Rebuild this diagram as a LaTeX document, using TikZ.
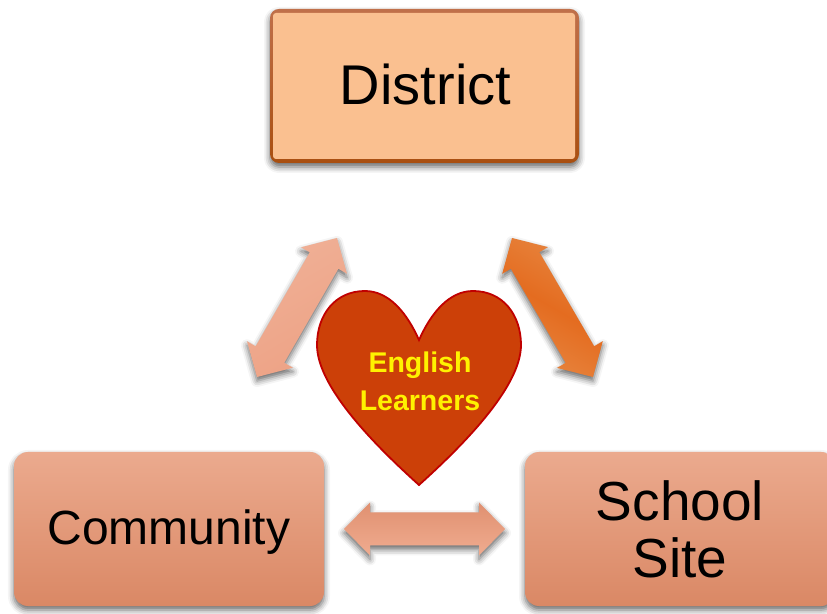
\documentclass[tikz,border=0pt]{standalone}
\usepackage{fontspec}
\setmainfont{Liberation Sans}
\usetikzlibrary{calc,shadows,shadows.blur}
\definecolor{facepeach}{HTML}{FAC090}
\definecolor{bevellight}{HTML}{C0704A}
\definecolor{beveldark}{HTML}{A94F10}
\definecolor{boxtop}{HTML}{EBAA8E}
\definecolor{boxbottom}{HTML}{DA8865}
\definecolor{heartfill}{HTML}{CC4008}
\definecolor{heartline}{HTML}{C00000}
\definecolor{paleedge}{HTML}{F0B096}
\definecolor{palemid}{HTML}{EDA285}
\definecolor{orangemid}{HTML}{E46C20}
\definecolor{orangeedge}{HTML}{E7853F}
\definecolor{peachdark}{HTML}{E09070}
\definecolor{peachlight}{HTML}{F0AC90}
\tikzset{
  softshadow/.style={blur shadow={shadow xshift=0pt,shadow yshift=-4pt,shadow blur radius=6pt,shadow opacity=60}},
  bevelbox/.style={rectangle,rounded corners=9pt,minimum width=309pt,minimum height=154pt,inner sep=0pt,top color=bevellight,bottom color=beveldark,softshadow},
  facebox/.style={rectangle,rounded corners=3pt,minimum width=302pt,minimum height=146pt,inner sep=0pt,fill=facepeach,font=\fontsize{56}{60}\selectfont},
  sitebox/.style={rectangle,rounded corners=14pt,minimum width=310pt,minimum height=154pt,inner sep=0pt,top color=boxtop,bottom color=boxbottom,softshadow},
  leftarrow/.style={shading=axis,left color=paleedge,right color=palemid,shading angle=30,softshadow},
  rightarrow/.style={shading=axis,left color=orangeedge,right color=orangeedge,middle color=orangemid,shading angle=-30,softshadow},
  bottomarrow/.style={shading=axis,top color=peachdark,bottom color=peachlight,softshadow},
}
% style, tail point, tip point
\newcommand{\blockarrow}[3]{%
  \path[#1] (#2)
    -- ($(#2)!26pt!(#3)!26.5pt!90:(#3)$)
    -- ($(#2)!26pt!(#3)!16.5pt!90:(#3)$)
    -- ($(#3)!26pt!(#2)!16.5pt!-90:(#2)$)
    -- ($(#3)!26pt!(#2)!26.5pt!-90:(#2)$)
    -- (#3)
    -- ($(#3)!26pt!(#2)!26.5pt!90:(#2)$)
    -- ($(#3)!26pt!(#2)!16.5pt!90:(#2)$)
    -- ($(#2)!26pt!(#3)!16.5pt!-90:(#3)$)
    -- ($(#2)!26pt!(#3)!26.5pt!-90:(#3)$)
    -- cycle;}
\begin{document}
\begin{tikzpicture}[x=1pt,y=1pt]
\useasboundingbox (0,0) rectangle (827,613);
\clip (0,0) rectangle (827,613);
% Drawing boxes
\node[bevelbox] (districtback) at (424.5,527) {};
\node[facebox] (district) at (424,527) {\hspace{3pt}\raisebox{-19pt}[0pt][0pt]{District}};
\node[sitebox,font=\fontsize{48}{52}\selectfont] (community) at (169,84) {\raisebox{-16pt}[0pt][0pt]{Community}};
\node[sitebox,align=center,font=\fontsize{55}{57}\selectfont] (site) at (680,84) {School\\Site};
% Drawing heart
\path[draw=heartline,line width=1.8pt,fill=heartfill] (419,128)
  .. controls (378,165) and (317,225) .. (317,268)
  .. controls (317,298) and (335,322) .. (365,322)
  .. controls (389,322) and (407,300) .. (419,273)
  .. controls (431,300) and (449,322) .. (473,322)
  .. controls (503,322) and (521,298) .. (521,268)
  .. controls (521,225) and (460,165) .. (419,128) -- cycle;
\node[align=center,text=yellow,font=\fontsize{28.5}{38}\selectfont\bfseries] (learners) at (420,232) {English\\Learners};
% Drawing arrows
\coordinate (commtip) at (257,236);
\coordinate (disttipl) at (337,375);
\coordinate (disttipr) at (512,375);
\coordinate (sitetipr) at (593,236);
\coordinate (commtipb) at (344,84);
\coordinate (sitetipb) at (505,84);
\blockarrow{leftarrow}{commtip}{disttipl}
\blockarrow{rightarrow}{disttipr}{sitetipr}
\blockarrow{bottomarrow}{commtipb}{sitetipb}
\end{tikzpicture}
\end{document}
